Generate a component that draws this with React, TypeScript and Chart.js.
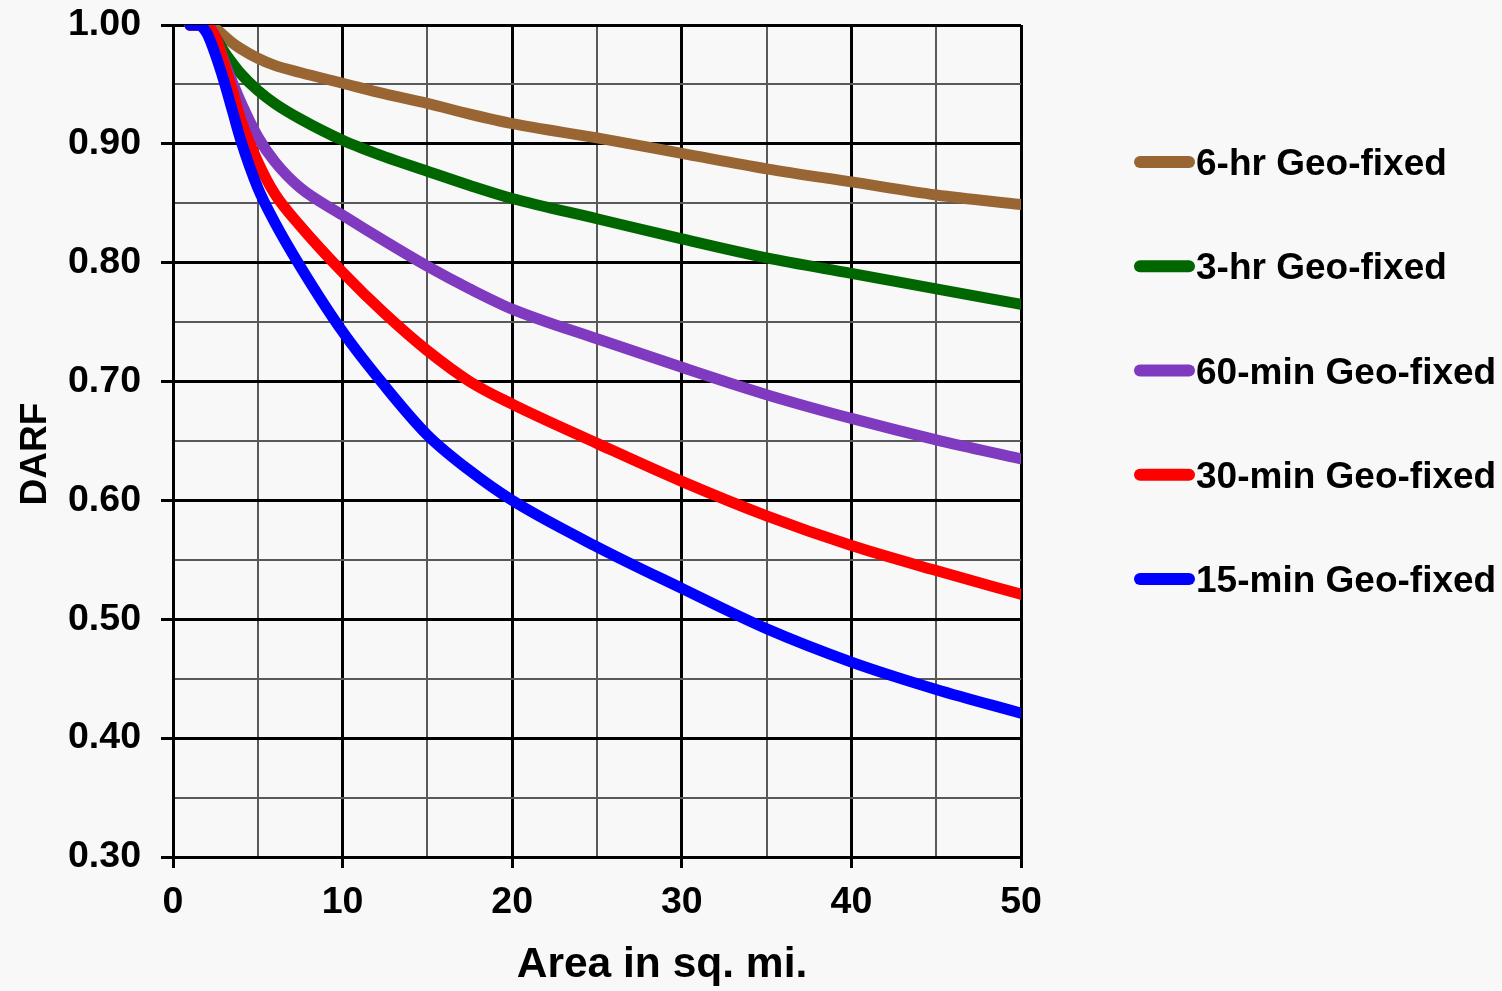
import React, { useEffect, useRef } from 'react';
import { Chart, registerables } from 'chart.js';

Chart.register(...registerables);

// ---- Data ----
const AREA = [1, 1.5, 2, 2.5, 3, 3.5, 4, 5, 6, 7.5, 10, 12.5, 15, 17.5, 20, 25, 30, 35, 40, 45, 50];
const HR6 = [1.0, 1.0, 1.0, 0.997, 0.991, 0.985, 0.98, 0.972, 0.966, 0.96, 0.951, 0.942, 0.934, 0.925, 0.917, 0.905, 0.892, 0.879, 0.868, 0.857, 0.849];
const HR3 = [1.0, 1.0, 1.0, 0.99, 0.978, 0.968, 0.959, 0.945, 0.934, 0.921, 0.903, 0.889, 0.877, 0.865, 0.854, 0.837, 0.82, 0.804, 0.791, 0.778, 0.765];
const MIN60 = [1.0, 1.0, 1.0, 0.99, 0.97, 0.952, 0.935, 0.906, 0.885, 0.863, 0.84, 0.818, 0.797, 0.778, 0.761, 0.736, 0.712, 0.689, 0.669, 0.651, 0.635];
const MIN30 = [1.0, 1.0, 0.999, 0.99, 0.968, 0.945, 0.92, 0.885, 0.858, 0.831, 0.792, 0.757, 0.726, 0.7, 0.681, 0.648, 0.616, 0.587, 0.562, 0.541, 0.521];
const MIN15 = [1.0, 1.0, 0.993, 0.975, 0.953, 0.928, 0.903, 0.863, 0.834, 0.797, 0.742, 0.696, 0.655, 0.625, 0.6, 0.561, 0.526, 0.492, 0.464, 0.441, 0.421];

const SERIES_LABELS = ['6-hr Geo-fixed', '3-hr Geo-fixed', '60-min Geo-fixed', '30-min Geo-fixed', '15-min Geo-fixed'];
const SERIES_VALUES = [HR6, HR3, MIN60, MIN30, MIN15];
const SERIES_COLORS = ['#996633', '#006600', '#7F3ABF', '#FF0000', '#0000FF'];

const X_MIN = 0;
const X_MAX = 50;
const X_STEP = 5; // minor gridline step
const X_LABEL_STEP = 10;
const Y_MIN = 0.3;
const Y_MAX = 1.0;
const Y_STEP = 0.05;
const Y_LABEL_STEP = 0.1;

const X_TITLE = 'Area in sq. mi.';
const Y_TITLE = 'DARF';

const FONT = '"Liberation Sans", Arial, Helvetica, sans-serif';
const BG = '#f8f8f8';

const isMajorX = (v: number) => Math.abs(v / X_LABEL_STEP - Math.round(v / X_LABEL_STEP)) < 1e-6;
const isMajorY = (v: number) => Math.abs(v / Y_LABEL_STEP - Math.round(v / Y_LABEL_STEP)) < 1e-6;

const extrasPlugin = {
  id: 'extras',
  beforeDraw(chart: any) {
    const { ctx, width, height } = chart;
    ctx.save();
    ctx.fillStyle = BG;
    ctx.fillRect(0, 0, width, height);
    ctx.restore();
  },
  afterDraw(chart: any) {
    const { ctx } = chart;
    ctx.save();
    // Axis titles
    ctx.fillStyle = '#000';
    ctx.font = `bold 42.5px ${FONT}`;
    ctx.textAlign = 'center';
    ctx.textBaseline = 'alphabetic';
    ctx.fillText(X_TITLE, 662, 977);

    ctx.save();
    ctx.translate(46, 454);
    ctx.rotate(-Math.PI / 2);
    ctx.font = `bold 37px ${FONT}`;
    ctx.textAlign = 'center';
    ctx.fillText(Y_TITLE, 0, 0);
    ctx.restore();

    // Legend
    const datasets = chart.data.datasets;
    ctx.font = `bold 37px ${FONT}`;
    ctx.textAlign = 'left';
    datasets.forEach((ds: any, i: number) => {
      const cy = 162 + i * 104.25;
      ctx.strokeStyle = ds.borderColor;
      ctx.lineWidth = 12;
      ctx.lineCap = 'round';
      ctx.beginPath();
      ctx.moveTo(1140, cy);
      ctx.lineTo(1189, cy);
      ctx.stroke();
      ctx.fillStyle = '#000';
      ctx.fillText(ds.label, 1196, cy + 13);
    });
    ctx.restore();
  },
};

export default function App() {
  const canvasRef = useRef<HTMLCanvasElement | null>(null);

  useEffect(() => {
    document.body.style.margin = '0';
    document.body.style.background = BG;
    const canvas = canvasRef.current;
    if (!canvas) return;

    const datasets = SERIES_LABELS.map((label, i) => ({
      label,
      data: AREA.map((x, j) => ({ x, y: SERIES_VALUES[i][j] })),
      borderColor: SERIES_COLORS[i],
      backgroundColor: SERIES_COLORS[i],
      borderWidth: 11,
      borderCapStyle: 'round' as const,
      borderJoinStyle: 'round' as const,
      pointRadius: 0,
      cubicInterpolationMode: 'monotone' as const,
      order: SERIES_LABELS.length - i,
    }));

    const chart = new Chart(canvas, {
      type: 'line',
      data: { datasets },
      plugins: [extrasPlugin],
      options: {
        responsive: false,
        animation: false,
        layout: { padding: { top: 25, right: 481, left: 0, bottom: 0 } },
        plugins: {
          legend: { display: false },
          tooltip: { enabled: false },
        },
        scales: {
          x: {
            type: 'linear',
            min: X_MIN,
            max: X_MAX,
            afterFit: (scale: any) => {
              scale.height = 134;
              scale.paddingLeft = 0;
              scale.paddingRight = 0;
            },
            afterBuildTicks: (scale: any) => {
              const t = [];
              for (let v = X_MIN; v <= X_MAX + 1e-9; v += X_STEP) t.push({ value: v });
              scale.ticks = t;
            },
            ticks: {
              autoSkip: false,
              maxRotation: 0,
              padding: 12,
              color: '#000',
              font: { family: FONT, size: 37.5, weight: 'bold' },
              callback: (v: any) => (isMajorX(Number(v)) ? String(Math.round(Number(v))) : ''),
            },
            grid: {
              color: (c: any) => (isMajorX(c.tick.value) ? '#000' : '#595959'),
              lineWidth: (c: any) => (isMajorX(c.tick.value) ? 3 : 2),
              tickColor: (c: any) => (isMajorX(c.tick.value) ? '#000' : 'rgba(0,0,0,0)'),
              tickWidth: 3,
              tickLength: 11,
            },
            border: { color: '#000', width: 3 },
          },
          y: {
            type: 'linear',
            min: Y_MIN,
            max: Y_MAX,
            afterFit: (scale: any) => {
              scale.width = 173;
              scale.paddingTop = 0;
              scale.paddingBottom = 0;
            },
            afterBuildTicks: (scale: any) => {
              const t = [];
              const n = Math.round((Y_MAX - Y_MIN) / Y_STEP);
              for (let k = 0; k <= n; k++) t.push({ value: Number((Y_MIN + k * Y_STEP).toFixed(2)) });
              scale.ticks = t;
            },
            ticks: {
              autoSkip: false,
              padding: 20,
              color: '#000',
              font: { family: FONT, size: 37.5, weight: 'bold' },
              callback: (v: any) => (isMajorY(Number(v)) ? Number(v).toFixed(2) : ''),
            },
            grid: {
              color: (c: any) => (isMajorY(c.tick.value) ? '#000' : '#595959'),
              lineWidth: (c: any) => (isMajorY(c.tick.value) ? 3 : 2),
              tickColor: (c: any) => (isMajorY(c.tick.value) ? '#000' : 'rgba(0,0,0,0)'),
              tickWidth: 3,
              tickLength: 12,
            },
            border: { color: '#000', width: 3 },
          },
        },
      },
    });

    return () => chart.destroy();
  }, []);

  return (
    <div style={{ width: 1502, height: 991, background: BG }}>
      <canvas ref={canvasRef} width={1502} height={991} style={{ display: 'block' }} />
    </div>
  );
}
